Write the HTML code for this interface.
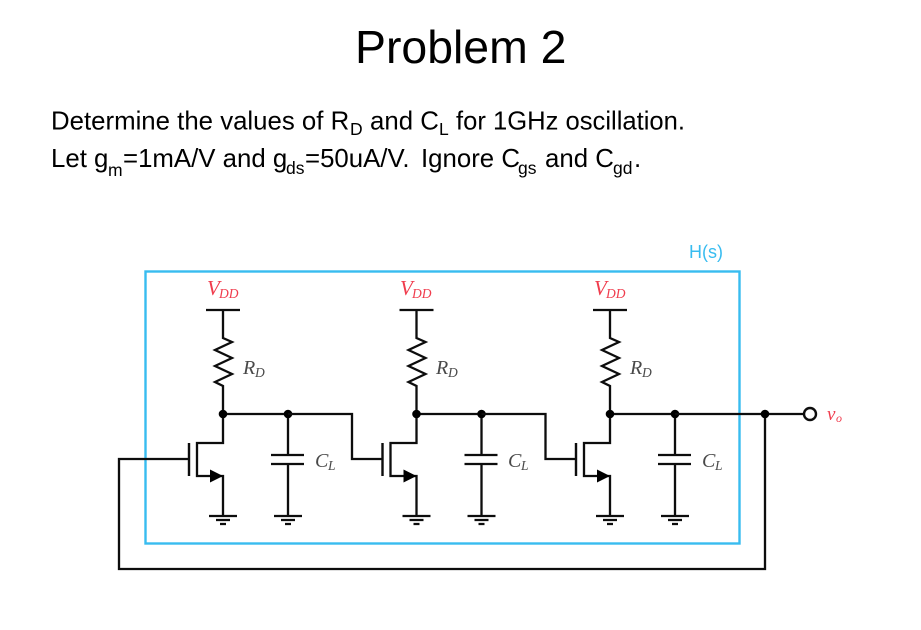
<!DOCTYPE html>
<html>
<head>
<meta charset="utf-8">
<style>
html,body{margin:0;padding:0;background:#fff;width:921px;height:630px;overflow:hidden}
svg{display:block}
.a{font-family:"Liberation Sans",sans-serif;fill:#000}
.s{font-family:"Liberation Serif",serif;font-style:italic}
.g{fill:#4a4a4a}
.r{fill:#f03c4e}
</style>
</head>
<body>
<svg width="921" height="630" viewBox="0 0 921 630" xmlns="http://www.w3.org/2000/svg">
<defs>
<filter id="b" x="-5%" y="-5%" width="110%" height="110%"><feGaussianBlur stdDeviation="0.35"/></filter>
<g id="stage" fill="none" stroke="#111" stroke-width="2.3">
  <path d="M206 310H240M223 310V338L232 342 215 350 232 358 215 366 232 374 215 382 223 386V443H197V476H223V516"/>
  <path d="M189 443V476" stroke-width="2.4"/>
  <path d="M209 516H237M216 520H230M220 524H226"/>
  <path d="M223 414H288V455M271 455H304M271 464H304M288 464V516M274 516H302M281 520H295M285 524H291"/>
  <path d="M210 469.5L223 476 210 482.5Z" fill="#000" stroke="none"/>
  <circle cx="223" cy="414" r="4.3" fill="#000" stroke="none"/>
  <circle cx="288" cy="414" r="4.3" fill="#000" stroke="none"/>
</g>
</defs>

<text class="a" x="355" y="63" font-size="46.4">Problem 2</text>

<g class="a" font-size="25.8">
  <text class="a" x="51" y="129.5">Determine the values of R</text>
  <text class="a" x="350" y="135" font-size="17.5">D</text>
  <text class="a" x="370" y="129.5">and C</text>
  <text class="a" x="439" y="135" font-size="17.5">L</text>
  <text class="a" x="456" y="129.5" font-size="25.6">for 1GHz oscillation.</text>
  <text class="a" x="51" y="167">Let g</text>
  <text class="a" x="108" y="176" font-size="17.5">m</text>
  <text class="a" x="123" y="167">=1mA/V and g</text>
  <text class="a" x="286" y="174" font-size="17.5">ds</text>
  <text class="a" x="305" y="167">=50uA/V.</text>
  <text class="a" x="421" y="167">Ignore C</text>
  <text class="a" x="518" y="174" font-size="17.5">gs</text>
  <text class="a" x="545" y="167">and C</text>
  <text class="a" x="613" y="174" font-size="17.5">gd</text>
  <text class="a" x="634" y="167">.</text>
</g>

<g filter="url(#b)">
  <rect x="145.5" y="271.5" width="594" height="272" fill="none" stroke="#38bcf0" stroke-width="2.4"/>
  <use href="#stage"/>
  <use href="#stage" x="193.5"/>
  <use href="#stage" x="387"/>
  <g fill="none" stroke="#111" stroke-width="2.3">
    <path d="M288 414H352V459H382"/>
    <path d="M481.5 414H545.5V459H575.5"/>
    <path d="M675 414H804"/>
    <path d="M189 459H119V569H765V414"/>
    <circle cx="810" cy="414" r="6" fill="#fff" stroke-width="2.4"/>
  </g>
  <circle cx="765" cy="414" r="4.3" fill="#000"/>

  <text x="689" y="258" font-family="Liberation Sans, sans-serif" font-size="18" fill="#38bcf0">H(s)</text>

  <g class="s">
    <text class="s r" x="207" y="295" font-size="21">V</text><text class="s r" x="219" y="298" font-size="13.5">DD</text>
    <text class="s r" x="400" y="295" font-size="21">V</text><text class="s r" x="412" y="298" font-size="13.5">DD</text>
    <text class="s r" x="594" y="295" font-size="21">V</text><text class="s r" x="606" y="298" font-size="13.5">DD</text>

    <text class="s g" x="243" y="374" font-size="20">R</text><text class="s g" x="255" y="377" font-size="13.5">D</text>
    <text class="s g" x="436" y="374" font-size="20">R</text><text class="s g" x="448" y="377" font-size="13.5">D</text>
    <text class="s g" x="630" y="374" font-size="20">R</text><text class="s g" x="642" y="377" font-size="13.5">D</text>

    <text class="s g" x="315" y="467" font-size="20">C</text><text class="s g" x="328" y="470" font-size="13.5">L</text>
    <text class="s g" x="508" y="467" font-size="20">C</text><text class="s g" x="521" y="470" font-size="13.5">L</text>
    <text class="s g" x="702" y="467" font-size="20">C</text><text class="s g" x="715" y="470" font-size="13.5">L</text>

    <text class="s r" x="827" y="420" font-size="19">v</text><text class="s r" x="836" y="422" font-size="12">o</text>
  </g>
</g>
</svg>
</body>
</html>
